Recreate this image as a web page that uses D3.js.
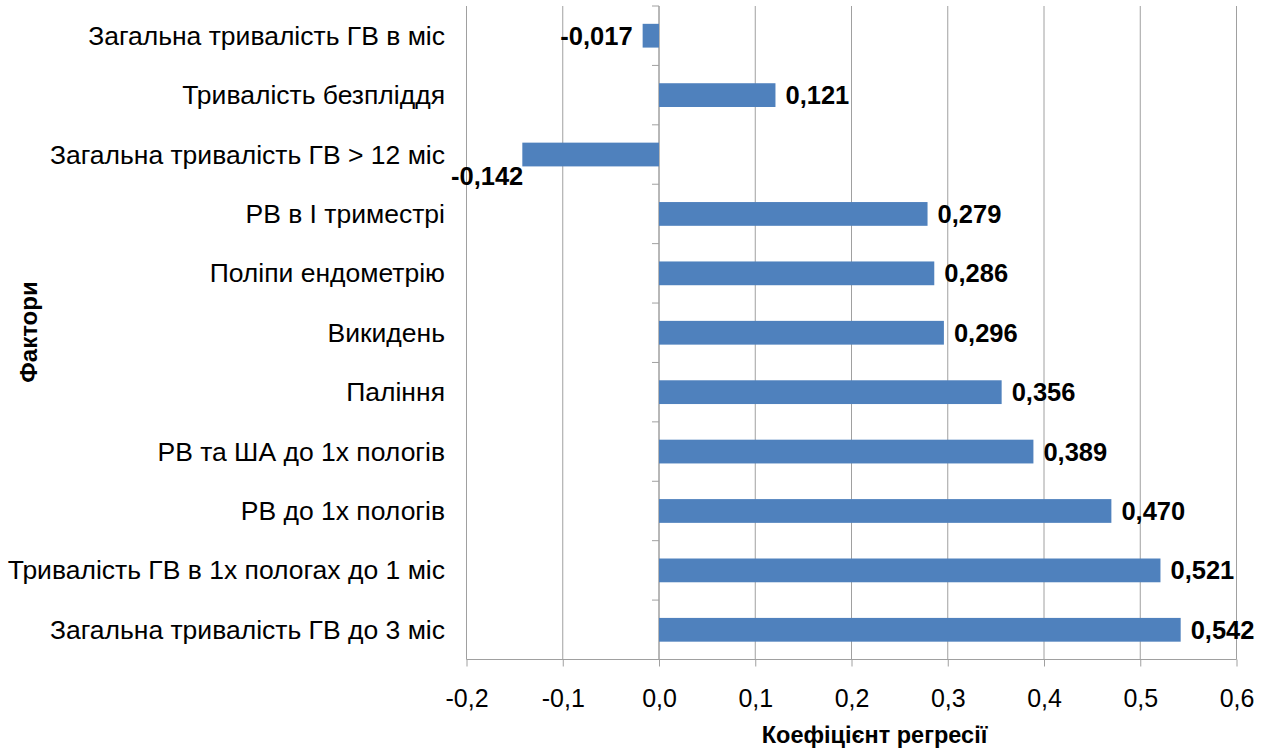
<!DOCTYPE html>
<html>
<head>
<meta charset="utf-8">
<script src="https://cdn.jsdelivr.net/npm/d3@7"></script>
<style>
  html, body { margin: 0; padding: 0; background: #fff; }
  svg { display: block; font-family: Arial, "Liberation Sans", sans-serif; }
</style>
</head>
<body>
<svg id="chart" width="1268" height="751"></svg>
<script>
// Regression coefficients per factor, listed top to bottom
const factors = [
  "Загальна тривалість ГВ в міс",
  "Тривалість безпліддя",
  "Загальна тривалість ГВ > 12 міс",
  "РВ в І триместрі",
  "Поліпи ендометрію",
  "Викидень",
  "Паління",
  "РВ та ША до 1х пологів",
  "РВ до 1х пологів",
  "Тривалість ГВ в 1х пологах до 1 міс",
  "Загальна тривалість ГВ до 3 міс"
];
const coefficients = [-0.017, 0.121, -0.142, 0.279, 0.286, 0.296, 0.356, 0.389, 0.470, 0.521, 0.542];
const xTicks = [-0.2, -0.1, 0.0, 0.1, 0.2, 0.3, 0.4, 0.5, 0.6];
const xTitle = "Коефіцієнт регресії";
const yTitle = "Фактори";

const svg = d3.select("#chart");
const plot = { left: 466.5, right: 1236.5, top: 6, bottom: 659.5 };
const gridColor = "#a0a0a0";
const barColor = "#4f81bd";

const x = d3.scaleLinear().domain([-0.2, 0.6]).range([plot.left, plot.right]);
const y = d3.scaleBand().domain(factors).range([plot.top, plot.bottom]).padding(0);
const barH = y.step() * 0.4;
const fmt = v => v.toFixed(3).replace(".", ",");
const fmtTick = v => v.toFixed(1).replace(".", ",");

// vertical gridlines
svg.append("g").selectAll("line").data(xTicks).join("line")
  .attr("x1", d => x(d)).attr("x2", d => x(d))
  .attr("y1", plot.top).attr("y2", plot.bottom)
  .attr("stroke", gridColor).attr("stroke-width", 1);

// bottom axis
const xAxis = d3.axisBottom(x).tickValues(xTicks).tickSize(7).tickPadding(0).tickFormat("");
const gx = svg.append("g").attr("transform", `translate(0,${plot.bottom})`).call(xAxis);
gx.select(".domain").attr("stroke", gridColor).attr("d", `M${plot.left},0H${plot.right}`);
gx.selectAll(".tick line").attr("stroke", gridColor);
gx.selectAll(".tick").append("text")
  .attr("x", 0).attr("y", 707 - plot.bottom)
  .attr("text-anchor", "middle").attr("fill", "#000")
  .style("font-size", "25px").text(d => fmtTick(d));

// category axis at zero, ticks on band boundaries
const bounds = d3.range(factors.length + 1).map(i => plot.top + i * y.step());
svg.append("line")
  .attr("x1", x(0)).attr("x2", x(0)).attr("y1", plot.top).attr("y2", plot.bottom)
  .attr("stroke", gridColor);
svg.append("g").selectAll("line").data(bounds).join("line")
  .attr("x1", x(0) - 7).attr("x2", x(0))
  .attr("y1", d => d).attr("y2", d => d)
  .attr("stroke", gridColor);

// bars
svg.append("g").selectAll("rect").data(coefficients).join("rect")
  .attr("x", d => x(Math.min(0, d)))
  .attr("width", d => Math.abs(x(d) - x(0)))
  .attr("y", (d, i) => y(factors[i]) + (y.step() - barH) / 2)
  .attr("height", barH)
  .attr("fill", barColor);

// category labels
svg.append("g").selectAll("text").data(factors).join("text")
  .attr("x", 445).attr("y", d => y(d) + y.step() / 2 + 9)
  .attr("text-anchor", "end").attr("fill", "#000")
  .style("font-size", "26.5px").text(d => d);

// value labels
svg.append("g").selectAll("text").data(coefficients).join("text")
  .each(function(d, i) {
    const cy = y(factors[i]) + y.step() / 2;
    const sel = d3.select(this);
    const w = 80;
    if (d >= 0) {
      sel.attr("x", x(d) + 10).attr("y", cy + 9).attr("text-anchor", "start");
    } else if (x(d) - 10 - w > plot.left) {
      sel.attr("x", x(d) - 10).attr("y", cy + 9).attr("text-anchor", "end");
    } else {
      // not enough room left of the bar: drop below its end
      sel.attr("x", x(d) + 1).attr("y", cy + 30.5).attr("text-anchor", "end");
    }
  })
  .attr("fill", "#000").style("font-size", "25.5px").style("font-weight", "bold")
  .text(d => fmt(d));

// axis titles
svg.append("text")
  .attr("x", 874.5).attr("y", 743)
  .attr("text-anchor", "middle").style("font-size", "23.5px").style("font-weight", "bold")
  .text(xTitle);
svg.append("text")
  .attr("transform", "translate(37,332) rotate(-90)")
  .attr("text-anchor", "middle").style("font-size", "24px").style("font-weight", "bold")
  .text(yTitle);
</script>
</body>
</html>
